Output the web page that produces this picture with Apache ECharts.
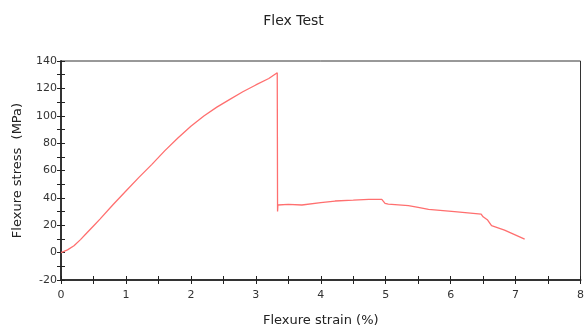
<!DOCTYPE html>
<html>
<head>
<meta charset="utf-8">
<title>Flex Test</title>
<script src="https://cdn.jsdelivr.net/npm/echarts@6/dist/echarts.min.js"></script>
<style>
    html, body { margin: 0; padding: 0; background: #fff; }
    #chart_flex { width: 587px; height: 332px; }
</style>
</head>
<body>
<div id="chart_flex"></div>
<script>
// 曲线数据 (应变 %, 应力 MPa)
var strain = [0, 0.1, 0.2, 0.3, 0.4, 0.5, 0.6, 0.8, 1.0, 1.2, 1.4, 1.6, 1.8, 2.0, 2.2, 2.4, 2.6, 2.8, 3.0, 3.2, 3.33,
    3.335, 3.34, 3.5, 3.71, 4.0, 4.22, 4.5, 4.74, 4.94, 4.99, 5.04, 5.35, 5.5, 5.66, 6.06, 6.47, 6.5, 6.57, 6.63, 6.83, 7.14];
var stress = [0, 2, 5, 9.5, 14.5, 19.5, 24.5, 35, 45, 55, 64.5, 74.5, 83.8, 92.3, 99.8, 106.3, 112, 117.5, 122.5, 127.2, 131.4,
    30, 34.8, 35.2, 34.8, 36.5, 37.7, 38.3, 38.9, 38.9, 36, 35.5, 34.3, 33, 31.6, 29.9, 28.2, 26.2, 23.8, 19.7, 16.5, 9.9];
var xTicks = [0, 1, 2, 3, 4, 5, 6, 7, 8];
var yTicks = [-20, 0, 20, 40, 60, 80, 100, 120, 140];

var points = [];
for (var i = 0; i < strain.length; i++) {
    points.push([strain[i], stress[i]]);
}

var myChart = echarts.init(document.getElementById('chart_flex'));
var font = 'DejaVu Sans';
var tickStyle = {lineStyle: {color: '#222', width: 1}, length: 4};

var option = {
    animation: false,
    title: {
        text: 'Flex Test',
        left: 'center',
        top: 9,
        textStyle: {fontFamily: font, fontSize: 14, fontWeight: 'normal', color: '#222'}
    },
    grid: {
        left: 61, right: 4, top: 61, bottom: 52,
        show: true, borderColor: '#333', borderWidth: 1
    },
    xAxis: [
        {
            type: 'value', min: xTicks[0], max: xTicks[xTicks.length - 1], interval: 1,
            name: 'Flexure strain (%)', nameLocation: 'middle', nameGap: 34,
            nameTextStyle: {fontFamily: font, fontSize: 13, color: '#222'},
            axisLine: {onZero: false, lineStyle: {color: '#333', width: 2}},
            axisTick: tickStyle,
            minorTick: {show: true, splitNumber: 2, length: 4, lineStyle: {color: '#222'}},
            axisLabel: {fontFamily: font, fontSize: 11, color: '#333', margin: 10},
            splitLine: {show: false}
        },
        {
            type: 'value', position: 'bottom', min: 0, max: 8, interval: 1,
            axisLine: {show: false, onZero: false},
            axisTick: {inside: true, length: 4, lineStyle: {color: '#222'}},
            minorTick: {show: true, splitNumber: 2, length: 4, lineStyle: {color: '#222'}},
            axisLabel: {show: false},
            splitLine: {show: false}
        }
    ],
    yAxis: [
        {
            type: 'value', min: yTicks[0], max: yTicks[yTicks.length - 1], interval: 20,
            name: 'Flexure stress  (MPa)', nameLocation: 'middle', nameGap: 37,
            nameTextStyle: {fontFamily: font, fontSize: 13, color: '#222'},
            axisLine: {show: true, onZero: false, lineStyle: {color: '#333', width: 2}},
            axisTick: tickStyle,
            minorTick: {show: true, splitNumber: 2, length: 4, lineStyle: {color: '#222'}},
            axisLabel: {fontFamily: font, fontSize: 11, color: '#333', margin: 4},
            splitLine: {show: false}
        },
        {
            type: 'value', position: 'left', min: -20, max: 140, interval: 20,
            axisLine: {show: false, onZero: false},
            axisTick: {show: true, inside: true, length: 4, lineStyle: {color: '#222'}},
            minorTick: {show: true, splitNumber: 2, length: 4, lineStyle: {color: '#222'}},
            axisLabel: {show: false},
            splitLine: {show: false}
        }
    ],
    series: [
        {
            name: 'Flex',
            type: 'line',
            data: points,
            showSymbol: false,
            lineStyle: {color: '#ff6f6f', width: 1.3}
        }
    ]
};
myChart.setOption(option);
</script>
</body>
</html>
